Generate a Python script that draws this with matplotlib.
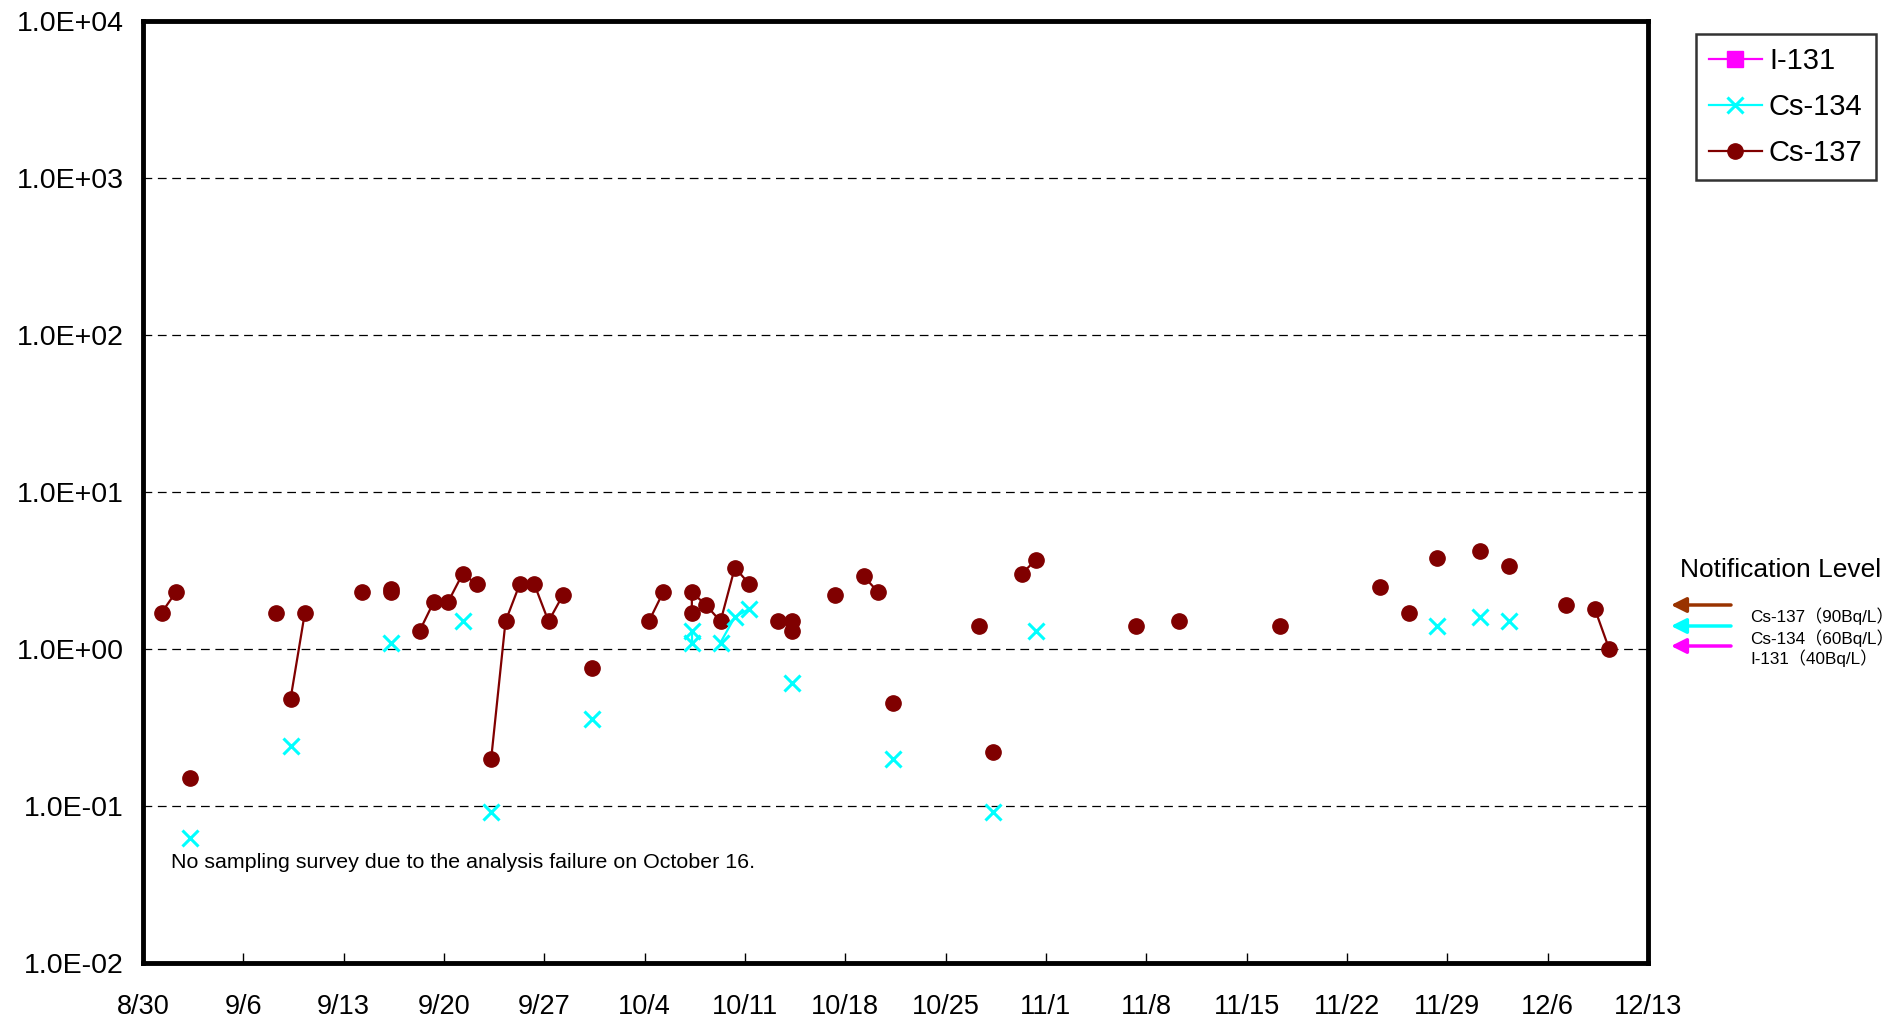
from datetime import datetime
import numpy as np
import matplotlib
matplotlib.use("Agg")
import matplotlib.pyplot as plt
import matplotlib.dates as mdates
from matplotlib.ticker import FuncFormatter, FixedLocator

plt.rcParams['font.family'] = ['Liberation Sans', 'Noto Sans CJK JP', 'DejaVu Sans']

YEAR = 2011
SAMPLE_HOUR = 7   # points sit a bit right of the date tick (sampling time of day)

# Cs-137 (Bq/L); run id = points drawn joined by one line
cs137_dates = ["8/31", "9/1", "9/2", "9/8", "9/9", "9/10", "9/14", "9/16", "9/16",
               "9/18", "9/19", "9/20", "9/21", "9/22", "9/23", "9/24", "9/25", "9/26",
               "9/27", "9/28", "9/30", "10/4", "10/5", "10/7", "10/7", "10/8", "10/9",
               "10/10", "10/11", "10/13", "10/14", "10/14", "10/17", "10/19", "10/20",
               "10/21", "10/27", "10/28", "10/30", "10/31", "11/7", "11/10", "11/17",
               "11/24", "11/26", "11/28", "12/1", "12/3", "12/7", "12/9", "12/10"]
cs137_vals = [1.7, 2.3, 0.15, 1.7, 0.48, 1.7, 2.3, 2.4, 2.3,
              1.3, 2.0, 2.0, 3.0, 2.6, 0.20, 1.5, 2.6, 2.6,
              1.5, 2.2, 0.76, 1.5, 2.3, 1.7, 2.3, 1.9, 1.5,
              3.3, 2.6, 1.5, 1.5, 1.3, 2.2, 2.9, 2.3,
              0.45, 1.4, 0.22, 3.0, 3.7, 1.4, 1.5, 1.4,
              2.5, 1.7, 3.8, 4.2, 3.4, 1.9, 1.8, 1.0]
cs137_run = [0, 0, 1, 2, 3, 3, 4, 5, 5,
             6, 6, 6, 6, 6, 7, 7, 7, 7,
             7, 7, 8, 9, 9, 10, 10, 10, 10,
             10, 10, 11, 11, 11, 12, 13, 13,
             14, 15, 16, 17, 17, 18, 19, 20,
             21, 22, 23, 24, 25, 26, 27, 27]

# Cs-134 (Bq/L)
cs134_dates = ["9/2", "9/9", "9/16", "9/21", "9/23", "9/30", "10/7", "10/7", "10/9",
               "10/10", "10/11", "10/14", "10/21", "10/28", "10/31", "11/28", "12/1", "12/3"]
cs134_vals = [0.063, 0.24, 1.1, 1.5, 0.092, 0.36, 1.3, 1.1, 1.1,
              1.6, 1.8, 0.61, 0.20, 0.092, 1.3, 1.4, 1.6, 1.5]
cs134_run = [0, 1, 2, 3, 4, 5, 6, 6, 7,
             7, 7, 8, 9, 10, 11, 12, 13, 14]

# I-131: nothing detected, legend entry only
i131_dates = []
i131_vals = []

notif_labels = ["Cs-137（90Bq/L）", "Cs-134（60Bq/L）", "I-131（40Bq/L）"]
notif_colors = ["#993300", "#00FFFF", "#FF00FF"]

x_start, x_end = "8/30", "12/13"


def to_num(md, hour=0):
    m, d = md.split("/")
    return mdates.date2num(datetime(YEAR, int(m), int(d), hour))


def plot_runs(ax, dates, vals, runs, **kw):
    x = np.array([to_num(d, SAMPLE_HOUR) for d in dates])
    v = np.array(vals)
    r = np.array(runs)
    for rid in np.unique(r):
        sel = r == rid
        ax.plot(x[sel], v[sel], **kw)


def main():
    fig = plt.figure(figsize=(19.04, 10.24), dpi=100)
    ax = fig.add_axes([143 / 1904, 1 - 963 / 1024, 1505 / 1904, 942 / 1024])

    plot_runs(ax, cs137_dates, cs137_vals, cs137_run, color="#800000", marker="o",
              ms=11, lw=1.6, zorder=3)
    plot_runs(ax, cs134_dates, cs134_vals, cs134_run, color="#00FFFF", marker="x",
              ms=12, mew=2.2, lw=1.6, zorder=4)

    # legend handles
    h1, = ax.plot(i131_dates, i131_vals, color="#FF00FF", marker="s", ms=11, lw=1.6, label="I-131")
    h2, = ax.plot([], [], color="#00FFFF", marker="x", ms=12, mew=2.2, lw=1.6, label="Cs-134")
    h3, = ax.plot([], [], color="#800000", marker="o", ms=11, lw=1.6, label="Cs-137")

    ax.set_yscale("log")
    ax.set_ylim(1e-2, 1e4)
    ax.set_xlim(to_num(x_start), to_num(x_end))

    ax.yaxis.set_major_locator(FixedLocator([10.0 ** k for k in range(-2, 5)]))
    ax.yaxis.set_minor_locator(FixedLocator([]))
    ax.yaxis.set_major_formatter(FuncFormatter(lambda v, p: f"{v:.1E}"))
    ax.xaxis.set_major_locator(FixedLocator(np.arange(to_num(x_start), to_num(x_end) + 1, 7)))
    ax.xaxis.set_major_formatter(FuncFormatter(
        lambda v, p: f"{mdates.num2date(v).month}/{mdates.num2date(v).day}"))

    ax.tick_params(axis="x", direction="in", length=7, width=1, labelsize=19.5, pad=22)
    ax.tick_params(axis="y", length=0, labelsize=20.5, pad=14)
    ax.grid(axis="y", which="major", color="black", lw=0.9, ls=(0, (7, 4.5)))
    for s in ax.spines.values():
        s.set_linewidth(3.5)

    leg = fig.legend(handles=[h1, h2, h3], loc="upper left",
                     bbox_to_anchor=(1696 / 1904, 1 - 34 / 1024), fontsize=21,
                     frameon=True, fancybox=False, edgecolor="black", borderaxespad=0,
                     handlelength=1.8, handletextpad=0.25, labelspacing=0.62, borderpad=0.45)
    leg.get_frame().set_linewidth(1.8)

    ax.text(0.0186, 0.107, "No sampling survey due to the analysis failure on October 16.",
            transform=ax.transAxes, fontsize=15.4, va="center", ha="left")

    fig.text(1781 / 1904, 1 - 570 / 1024, "Notification Level", fontsize=19,
             ha="center", va="center")
    arrow_y = [605, 626, 646]
    text_y = [616, 638, 658]
    for lab, col, ay, ty in zip(notif_labels, notif_colors, arrow_y, text_y):
        ax.annotate("", xy=(1671 / 1904, 1 - ay / 1024), xycoords="figure fraction",
                    xytext=(1731 / 1904, 1 - ay / 1024), textcoords="figure fraction",
                    arrowprops=dict(arrowstyle="-|>,head_length=0.9,head_width=0.45",
                                    color=col, lw=2.5, shrinkA=0, shrinkB=0))
        fig.text(1750 / 1904, 1 - ty / 1024, lab, fontsize=12.3, ha="left", va="center")

    fig.savefig("out.png", dpi=100)


if __name__ == '__main__':
    main()
